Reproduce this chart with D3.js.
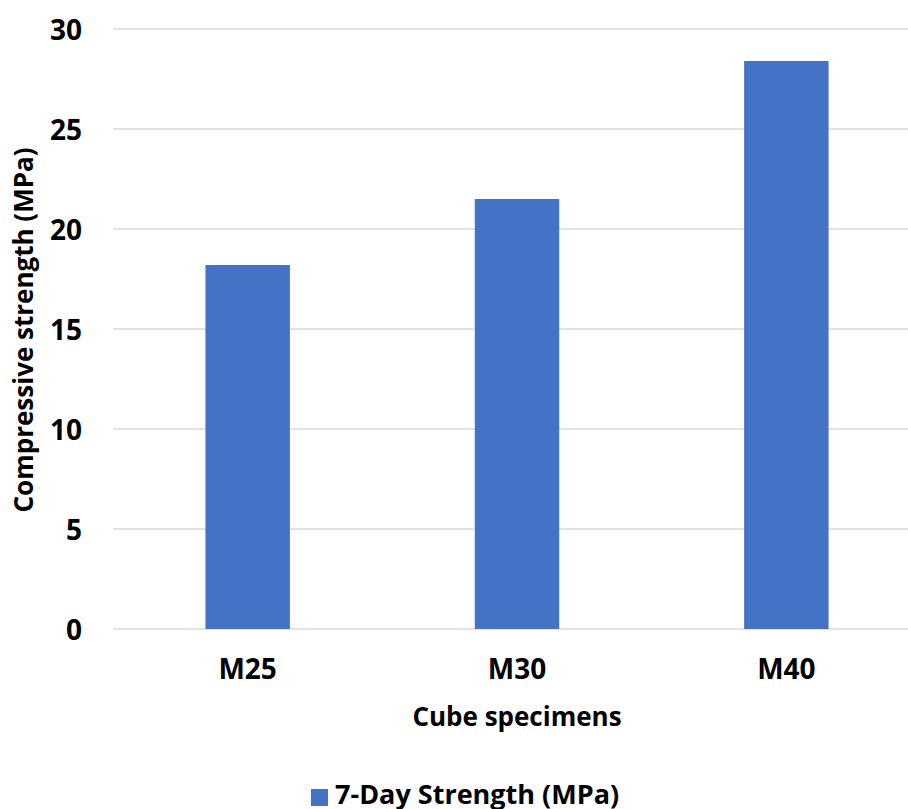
<!DOCTYPE html>
<html>
<head>
<meta charset="utf-8">
<script src="https://cdn.jsdelivr.net/npm/d3@7"></script>
<style>
  html, body { margin: 0; padding: 0; background: #fff; }
  svg { display: block; }
  text { font-family: "Open Sans", Lato, sans-serif; font-weight: 700; fill: #000; }
</style>
</head>
<body>
<svg id="chart" width="908" height="809"></svg>
<script>
// Cube compressive strength after 7 days of curing
const categories = ["M25", "M30", "M40"];
const strength7Day = [18.2, 21.5, 28.4];
const yTicks = [0, 5, 10, 15, 20, 25, 30];
const seriesName = "7-Day Strength (MPa)";
const xTitle = "Cube specimens";
const yTitle = "Compressive strength (MPa)";

const svg = d3.select("#chart");
const plot = { left: 113, right: 921, top: 29, bottom: 629 };
const barColor = "#4472C4";

const x = d3.scaleBand().domain(categories).range([plot.left, plot.right]);
const y = d3.scaleLinear().domain([0, 30]).range([plot.bottom, plot.top]);
const barW = x.bandwidth() / 3.19;

// horizontal gridlines
svg.append("g")
  .selectAll("line")
  .data(yTicks)
  .join("line")
  .attr("x1", plot.left)
  .attr("x2", plot.right)
  .attr("y1", d => y(d))
  .attr("y2", d => y(d))
  .attr("stroke", "#D9D9D9")
  .attr("stroke-width", 1.5);

// bars
svg.append("g")
  .selectAll("rect")
  .data(categories.map((c, i) => ({ c, v: strength7Day[i] })))
  .join("rect")
  .attr("x", d => x(d.c) + (x.bandwidth() - barW) / 2)
  .attr("width", barW)
  .attr("y", d => y(d.v))
  .attr("height", d => y(0) - y(d.v))
  .attr("fill", barColor);

// y axis labels
const yAxis = d3.axisLeft(y).tickValues(yTicks).tickSize(0).tickPadding(0);
const gy = svg.append("g").attr("transform", "translate(82,0)").call(yAxis);
gy.select(".domain").remove();
gy.selectAll("text").style("font-size", "28px").style("font-family", null).attr("fill", "#000")
  .attr("dy", "0.36em");

// x axis labels
const xAxis = d3.axisBottom(x).tickSize(0).tickPadding(0);
const gx = svg.append("g").attr("transform", "translate(0,679)").call(xAxis);
gx.select(".domain").remove();
gx.selectAll("text").style("font-size", "28px").style("font-family", null).attr("fill", "#000")
  .attr("dy", 0);

// axis titles
svg.append("text")
  .attr("x", x("M30") + x.bandwidth() / 2)
  .attr("y", 726)
  .attr("text-anchor", "middle")
  .style("font-size", "26px")
  .text(xTitle);

svg.append("text")
  .attr("transform", "translate(33,330) rotate(-90)")
  .attr("text-anchor", "middle")
  .style("font-size", "26px")
  .text(yTitle);

// legend
const legend = svg.append("g").attr("transform", "translate(311,789)");
legend.append("rect").attr("width", 17).attr("height", 17).attr("fill", barColor);
legend.append("text")
  .attr("x", 24)
  .attr("y", 15)
  .style("font-size", "27px")
  .text(seriesName);
</script>
</body>
</html>
